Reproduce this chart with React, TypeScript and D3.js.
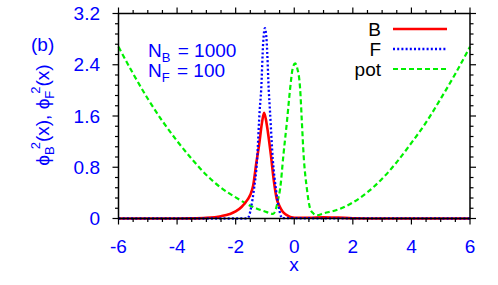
import React, { useRef, useEffect } from 'react';
import { select, scaleLinear, line, curveMonotoneX, range } from 'd3';

// boson density phi_B^2(x)
const xB = [-6, -4, -3.5, -3, -2.5, -2.2, -2.0, -1.8, -1.6, -1.5, -1.4, -1.3, -1.2, -1.1, -1.03, -0.95, -0.9, -0.8, -0.7, -0.6, -0.5, -0.4, -0.3, -0.2, -0.1, 0, 0.5, 1, 1.5, 2, 3, 6];
const valB = [0, 0, 0.002, 0.01, 0.036, 0.07, 0.11, 0.18, 0.29, 0.37, 0.52, 0.85, 1.15, 1.5, 1.65, 1.5, 1.35, 1.0, 0.6, 0.31, 0.19, 0.11, 0.065, 0.04, 0.02, 0.012, 0.012, 0.02, 0.014, 0.005, 0, 0];

// fermion density phi_F^2(x)
const xF = [-6, -1.7, -1.6, -1.55, -1.47, -1.38, -1.27, -1.18, -1.13, -1.06, -1.0, -0.94, -0.87, -0.83, -0.73, -0.62, -0.53, -0.45, -0.4, 6];
const valF = [0, 0, 0.005, 0.03, 0.18, 0.44, 0.91, 1.69, 2.0, 2.75, 2.97, 2.75, 2.0, 1.69, 0.91, 0.44, 0.18, 0.03, 0.005, 0];

// potential
const xPot = [-6, -5.5, -5, -4.5, -4, -3.5, -3, -2.5, -2, -1.5, -1.2, -1.0, -0.85, -0.72, -0.62, -0.55, -0.48, -0.37, -0.25, -0.14, -0.05, 0.03, 0.1, 0.2, 0.26, 0.32, 0.43, 0.54, 0.65, 0.77, 1.0, 1.5, 2, 2.5, 3, 3.5, 4, 4.5, 5, 5.5, 6];
const valPot = [2.68, 2.26, 1.87, 1.52, 1.21, 0.93, 0.68, 0.48, 0.33, 0.2, 0.14, 0.11, 0.085, 0.07, 0.16, 0.3, 0.47, 0.99, 1.51, 2.03, 2.35, 2.42, 2.35, 2.03, 1.51, 0.99, 0.47, 0.16, 0.08, 0.05, 0.08, 0.14, 0.25, 0.41, 0.62, 0.88, 1.18, 1.5, 1.87, 2.26, 2.68];

const xTicks = [-6, -4, -2, 0, 2, 4, 6];
const xTickLabels = ['-6', '-4', '-2', '0', '2', '4', '6'];
const yTicks = [0, 0.8, 1.6, 2.4, 3.2];
const yTickLabels = ['0', '0.8', '1.6', '2.4', '3.2'];

const FONT = '"Liberation Sans", Arial, sans-serif';

function App() {
  const svgRef = useRef(null);

  useEffect(() => {
    const svg = select(svgRef.current);
    svg.selectAll('*').remove();

    const x = scaleLinear().domain([-6, 6]).range([118.5, 470]);
    const y = scaleLinear().domain([0, 3.2]).range([218.5, 13.5]);

    const series = [
      { xs: xPot, vs: valPot, color: '#00f000', width: 2.2, dash: '5,3' },
      { xs: xB, vs: valB, color: '#ff0000', width: 2.6, dash: null },
      { xs: xF, vs: valF, color: '#0000ff', width: 2.3, dash: '2,2.2' },
    ];

    const gen = line()
      .x((d) => x(d[0]))
      .y((d) => y(d[1]))
      .curve(curveMonotoneX);

    // curves
    series.forEach((s) => {
      svg
        .append('path')
        .attr('d', gen(s.xs.map((v, i) => [v, s.vs[i]])))
        .attr('fill', 'none')
        .attr('stroke', s.color)
        .attr('stroke-width', s.width)
        .attr('stroke-dasharray', s.dash);
    });

    // border
    svg
      .append('rect')
      .attr('x', x(-6))
      .attr('y', y(3.2))
      .attr('width', x(6) - x(-6))
      .attr('height', y(0) - y(3.2))
      .attr('fill', 'none')
      .attr('stroke', 'black')
      .attr('stroke-width', 1.5);

    const ticks = svg.append('g').attr('stroke', 'black').attr('stroke-width', 1.2);
    const xMinor = range(-6, 6.01, 0.5);
    const yMinor = range(0, 3.21, 0.16);
    xMinor.forEach((t) => {
      const major = xTicks.some((m) => Math.abs(m - t) < 1e-6);
      const len = major ? 6 : 3.5;
      ticks.append('line').attr('x1', x(t)).attr('x2', x(t)).attr('y1', y(0)).attr('y2', y(0) + len);
      ticks.append('line').attr('x1', x(t)).attr('x2', x(t)).attr('y1', y(3.2)).attr('y2', y(3.2) - len);
    });
    yMinor.forEach((t) => {
      const major = yTicks.some((m) => Math.abs(m - t) < 1e-6);
      const len = major ? 6 : 3.5;
      ticks.append('line').attr('x1', x(-6)).attr('x2', x(-6) - len).attr('y1', y(t)).attr('y2', y(t));
      ticks.append('line').attr('x1', x(6)).attr('x2', x(6) + len).attr('y1', y(t)).attr('y2', y(t));
    });

    // tick labels
    svg
      .selectAll('.xlab')
      .data(xTicks)
      .join('text')
      .attr('class', 'xlab')
      .attr('x', (d) => x(d))
      .attr('y', 253)
      .attr('text-anchor', 'middle')
      .text((d, i) => xTickLabels[i]);
    svg
      .selectAll('.ylab')
      .data(yTicks)
      .join('text')
      .attr('class', 'ylab')
      .attr('x', 100)
      .attr('y', (d) => y(d) + 6.6)
      .attr('text-anchor', 'end')
      .text((d, i) => yTickLabels[i]);

    // axis titles
    svg.append('text').attr('x', 294).attr('y', 271).attr('text-anchor', 'middle').text('x');

    const yl = svg
      .append('text')
      .attr('transform', 'translate(49,115) rotate(-90)')
      .attr('text-anchor', 'middle');
    const part = (el, str, opts = {}) => {
      const t = el.append('tspan').text(str);
      if (opts.size) t.attr('font-size', opts.size);
      if (opts.dy) t.attr('dy', opts.dy);
      if (opts.dx) t.attr('dx', opts.dx);
      return t;
    };
    part(yl, 'ϕ');
    part(yl, 'B', { size: 13, dy: 5 });
    part(yl, '2', { size: 13, dy: -14, dx: -3 });
    part(yl, '(x), ϕ', { dy: 9 });
    part(yl, 'F', { size: 13, dy: 5 });
    part(yl, '2', { size: 13, dy: -14, dx: -3 });
    part(yl, '(x)', { dy: 9 });

    svg.append('text').attr('x', 31).attr('y', 51).text('(b)');

    // particle numbers
    const n1 = svg.append('text').attr('x', 148).attr('y', 57);
    part(n1, 'N');
    part(n1, 'B', { size: 13, dy: 5 });
    part(n1, ' = 1000', { dy: -5, dx: 2 });
    const n2 = svg.append('text').attr('x', 148).attr('y', 77);
    part(n2, 'N');
    part(n2, 'F', { size: 13, dy: 5 });
    part(n2, ' = 100', { dy: -5, dx: 2 });

    svg.selectAll('text').attr('fill', '#0000ff');

    // legend
    const legend = svg.append('g');
    const names = ['B', 'F', 'pot'];
    names.forEach((n, i) => {
      const cy = 29 + i * 20;
      const s = series[[1, 2, 0][i]];
      legend
        .append('text')
        .attr('x', 381)
        .attr('y', cy + 6.6)
        .attr('text-anchor', 'end')
        .attr('fill', 'black')
        .text(n);
      legend
        .append('line')
        .attr('x1', 393)
        .attr('x2', 447)
        .attr('y1', cy)
        .attr('y2', cy)
        .attr('stroke', s.color)
        .attr('stroke-width', s.width)
        .attr('stroke-dasharray', s.dash);
    });
  }, []);

  return (
    <svg
      ref={svgRef}
      width={498}
      height={285}
      style={{ position: 'absolute', left: 0, top: 0, background: 'white' }}
      fontFamily={FONT}
      fontSize={19}
    />
  );
}

export default App;
